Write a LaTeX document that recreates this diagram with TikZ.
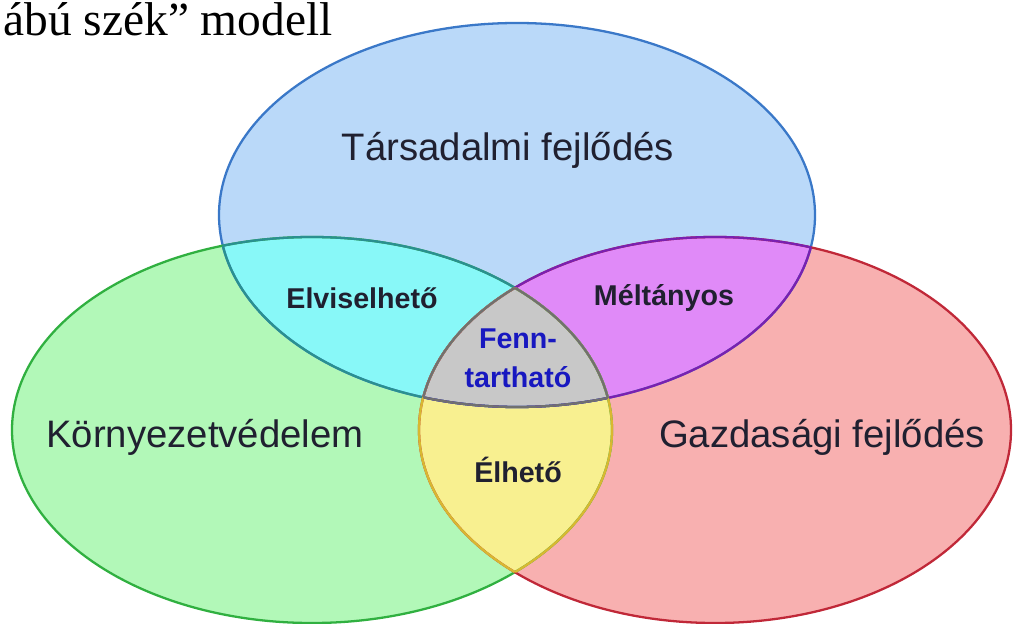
\documentclass[tikz,border=0pt]{standalone}
\usepackage{fontspec}
\setmainfont{Liberation Serif}
\newfontfamily\lsans{Liberation Sans}
\definecolor{bfill}{HTML}{BAD9F9}
\definecolor{bline}{HTML}{3A78C8}
\definecolor{gfill}{HTML}{B2F8B8}
\definecolor{gline}{HTML}{30B040}
\definecolor{rfill}{HTML}{F8B0B0}
\definecolor{rline}{HTML}{C02838}
\definecolor{cfill}{HTML}{88F8F8}
\definecolor{cline}{HTML}{2A9090}
\definecolor{mfill}{HTML}{E08AF8}
\definecolor{mline}{HTML}{7A20B0}
\definecolor{yfill}{HTML}{F8F090}
\definecolor{yline}{HTML}{D8B830}
\definecolor{kfill}{HTML}{C8C8C8}
\definecolor{kline}{HTML}{707070}
\definecolor{txt}{HTML}{202030}
\definecolor{ftxt}{HTML}{1818C0}
\begin{document}
\begin{tikzpicture}[x=0.02cm,y=-0.02cm,
  outl/.style={line width=1.3pt},
  big/.style={font=\lsans\fontsize{21.8}{26}\selectfont, text=txt},
  small/.style={font=\lsans\bfseries\fontsize{16.3}{22}\selectfont, text=txt, align=center}]
\useasboundingbox (0,0) rectangle (1016,624);
\clip (0,0) rectangle (1016,624);
\def\BE{(517,215) ellipse [x radius=298, y radius=192]}
\def\GE{(312,430) ellipse [x radius=300, y radius=193]}
\def\RE{(715,430) ellipse [x radius=296, y radius=193]}
% base fills
\fill[bfill] \BE;
\fill[gfill] \GE;
\fill[rfill] \RE;
% pairwise overlaps
\begin{scope}\clip \BE; \fill[cfill] \GE; \end{scope}
\begin{scope}\clip \BE; \fill[mfill] \RE; \end{scope}
\begin{scope}\clip \GE; \fill[yfill] \RE; \end{scope}
\begin{scope}\clip \BE; \clip \GE; \fill[kfill] \RE; \end{scope}
% outlines
\draw[outl, bline] \BE;
\draw[outl, gline] \GE;
\draw[outl, rline] \RE;
\begin{scope}\clip \GE; \draw[outl, cline] \BE; \end{scope}
\begin{scope}\clip \BE; \draw[outl, cline] \GE; \end{scope}
\begin{scope}\clip \RE; \draw[outl, mline] \BE; \end{scope}
\begin{scope}\clip \BE; \draw[outl, mline] \RE; \end{scope}
\begin{scope}\clip \RE; \draw[outl, yline] \GE; \end{scope}
\begin{scope}\clip \GE; \draw[outl, yline] \RE; \end{scope}
\begin{scope}\clip \GE; \clip \RE; \draw[outl, kline] \BE; \end{scope}
\begin{scope}\clip \BE; \clip \RE; \draw[outl, kline] \GE; \end{scope}
\begin{scope}\clip \BE; \clip \GE; \draw[outl, kline] \RE; \end{scope}
% labels
\node[big] (soc) at (508,150) {Társadalmi fejlődés};
\node[big] (env) at (205,437) {Környezetvédelem};
\node[big] (eco) at (822,437) {Gazdasági fejlődés};
\node[small] (bear) at (362,298) {Elviselhető};
\node[small] (equit) at (664,298) {Méltányos};
\node[small] (viab) at (518,470) {Élhető};
\node[small, text=ftxt] (sust) at (518,358) {Fenn-\\tartható};
\node[anchor=base west, font=\fontsize{27}{30}\selectfont, inner sep=0pt] (title) at (3,36) {ábú szék” modell};
\end{tikzpicture}
\end{document}
